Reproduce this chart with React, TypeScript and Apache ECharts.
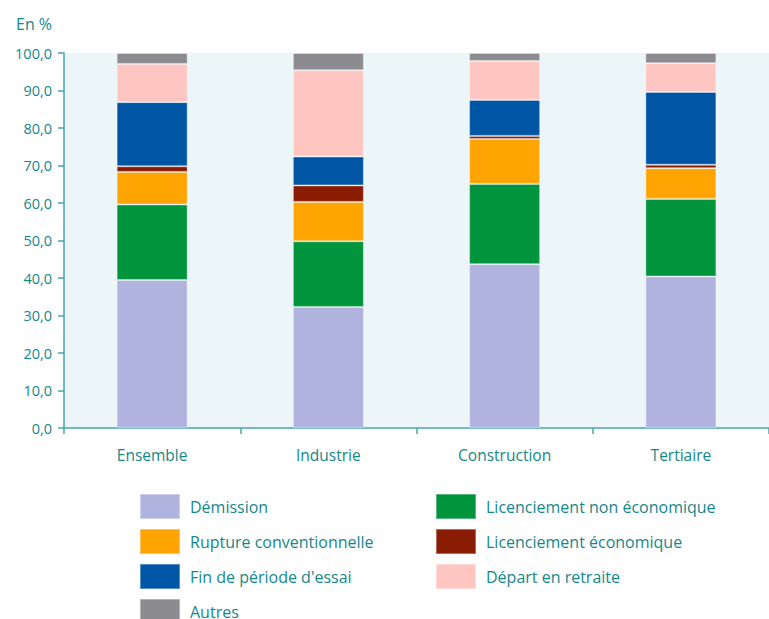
import React, { useEffect, useRef } from "react";
import * as echarts from "echarts";

const categories = ["Ensemble", "Industrie", "Construction", "Tertiaire"];
const demission = [39.5, 32.3, 43.7, 40.4];
const licNonEco = [20.1, 17.5, 21.4, 20.7];
const rupture = [8.7, 10.5, 12.0, 8.2];
const licEco = [1.5, 4.4, 0.8, 0.9];
const finEssai = [17.1, 7.7, 9.6, 19.4];
const retraite = [10.2, 23.0, 10.4, 7.7];
const autres = [2.9, 4.6, 2.1, 2.7];

const seriesDefs = [
  { name: "Démission", data: demission, color: "#B1B3DF" },
  { name: "Licenciement non économique", data: licNonEco, color: "#00943D" },
  { name: "Rupture conventionnelle", data: rupture, color: "#FFA400" },
  { name: "Licenciement économique", data: licEco, color: "#8B1C04" },
  { name: "Fin de période d'essai", data: finEssai, color: "#0055A5" },
  { name: "Départ en retraite", data: retraite, color: "#FFC6C1" },
  { name: "Autres", data: autres, color: "#8C8C90" },
];

const TEXT = "#14878A";
const AXIS = "#4AA3AD";
const FONT = "'Open Sans', 'Noto Sans', sans-serif";

export default function App() {
  const ref = useRef<HTMLDivElement>(null);
  useEffect(() => {
    document.body.style.margin = "0";
    const chart = echarts.init(ref.current!, null, { renderer: "svg" });
    const legendStyle = {
      orient: "vertical",
      itemWidth: 40,
      itemHeight: 25,
      itemGap: 8,
      height: 160,
      padding: 0,
      icon: "rect",
      textStyle: { color: TEXT, fontSize: 16, fontFamily: FONT, padding: [0, 0, 0, 5], lineHeight: 14 },
      selectedMode: false,
    };
    chart.setOption({
      animation: false,
      backgroundColor: "#ffffff",
      textStyle: { fontFamily: FONT },
      title: {
        text: "En %",
        left: 11,
        top: 11,
        textStyle: { color: TEXT, fontSize: 16, fontWeight: "normal", fontFamily: FONT },
      },
      legend: [
        {
          ...legendStyle,
          left: 139,
          top: 493,
          data: ["Démission", "Rupture conventionnelle", "Fin de période d'essai", "Autres"],
        },
        {
          ...legendStyle,
          left: 435,
          top: 493,
          data: ["Licenciement non économique", "Licenciement économique", "Départ en retraite"],
        },
      ],
      grid: {
        show: true,
        backgroundColor: "#ECF5F8",
        borderWidth: 0,
        left: 64,
        top: 53,
        width: 708,
        height: 375,
      },
      xAxis: {
        type: "category",
        data: categories,
        axisLine: { lineStyle: { color: AXIS, width: 1.5 } },
        axisTick: { show: true, length: 6, lineStyle: { color: AXIS, width: 1.5 } },
        axisLabel: { color: TEXT, fontSize: 15.5, fontFamily: FONT, margin: 19 },
      },
      yAxis: {
        type: "value",
        min: 0,
        max: 100,
        interval: 10,
        axisLine: { show: true, lineStyle: { color: AXIS, width: 1.5 } },
        axisTick: { show: true, length: 6, lineStyle: { color: AXIS, width: 1.5 } },
        splitLine: { show: false },
        axisLabel: {
          color: TEXT,
          fontSize: 14.5,
          fontFamily: FONT,
          margin: 12,
          formatter: (v: number) => v.toFixed(1).replace(".", ","),
        },
      },
      series: seriesDefs.map((s) => ({
        name: s.name,
        type: "bar",
        stack: "total",
        barWidth: 71,
        data: s.data,
        itemStyle: {
          color: s.color,
          borderColor: "rgba(255,255,255,0.35)",
          borderWidth: 1,
        },
        emphasis: { disabled: true },
      })),
    });
    return () => chart.dispose();
  }, []);
  return (
    <div
      ref={ref}
      style={{ position: "absolute", left: 0, top: 0, width: 769, height: 619 }}
    />
  );
}
